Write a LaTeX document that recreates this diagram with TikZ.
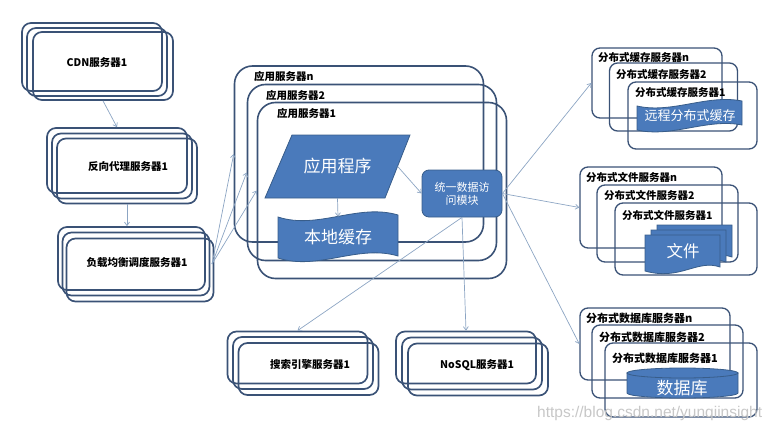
\documentclass[tikz,border=0pt]{standalone}
\usepackage{fontspec}
\setmainfont{Noto Sans CJK SC}
\newfontfamily\wmfont{Liberation Sans}
\usetikzlibrary{arrows.meta}
\definecolor{boxline}{RGB}{58,82,118}
\definecolor{blufill}{RGB}{74,122,187}
\definecolor{bluedge}{RGB}{56,93,138}
\definecolor{arr}{RGB}{140,165,195}
\begin{document}
\begin{tikzpicture}[x=1pt,y=-1pt,
  lbox/.style={draw=boxline,line width=1.7pt,rounded corners=9pt,inner sep=0pt},
  abox/.style={draw=boxline,line width=1.6pt,rounded corners=18pt,inner sep=0pt,minimum width=249pt,minimum height=176pt},
  rbox/.style={draw=boxline,line width=1.3pt,rounded corners=8pt,inner sep=0pt},
  ltxt/.style={font=\fontsize{10.5}{12}\selectfont\bfseries,text=black,inner sep=0pt},
  rtxt/.style={font=\fontsize{10.5}{12}\selectfont\bfseries,text=black,inner sep=0pt,anchor=west},
  bshape/.style={fill=blufill,draw=bluedge,line width=0.8pt},
  wtxt/.style={text=white,inner sep=0pt},
  conn/.style={draw=arr,line width=0.7pt,-{Straight Barb[length=3.5pt,width=5pt]}},
  docp/.pic={\path[bshape] (0,0) -- (75,0) -- (75,32) .. controls (52,24) and (35,46) .. (0,36) -- cycle;}
]
\useasboundingbox (0,0) rectangle (777,431);

% ---- left column ----
\node[lbox,minimum width=140pt,minimum height=68pt] (cdn1) at (92,57) {};
\node[lbox,minimum width=140pt,minimum height=68pt] (cdn2) at (97,62) {};
\node[lbox,minimum width=140pt,minimum height=68pt] (cdn3) at (103,66) {};
\node[ltxt] (cdnt) at (97,63) {CDN服务器1};

\node[lbox,minimum width=140pt,minimum height=65pt] (proxy1) at (117,160.5) {};
\node[lbox,minimum width=140pt,minimum height=65pt] (proxy2) at (122,166) {};
\node[lbox,minimum width=140pt,minimum height=65pt] (proxy3) at (127,171) {};
\node[ltxt] (proxyt) at (128,167) {反向代理服务器1};

\node[lbox,minimum width=147pt,minimum height=63pt] (lb1) at (131.5,258.5) {};
\node[lbox,minimum width=147pt,minimum height=63pt] (lb2) at (136,264) {};
\node[lbox,minimum width=147pt,minimum height=63pt] (lb3) at (140,270) {};
\node[ltxt] (lbt) at (137,263) {负载均衡调度服务器1};

% ---- bottom middle ----
\node[lbox,minimum width=140pt,minimum height=52pt] (search1) at (297.5,357.5) {};
\node[lbox,minimum width=140pt,minimum height=52pt] (search2) at (303,363) {};
\node[lbox,minimum width=140pt,minimum height=52pt] (search3) at (308.5,369) {};
\node[ltxt] (searcht) at (310,365) {搜索引擎服务器1};

\node[lbox,minimum width=140pt,minimum height=52pt] (nosql1) at (466,357.5) {};
\node[lbox,minimum width=140pt,minimum height=52pt] (nosql2) at (472,363.5) {};
\node[lbox,minimum width=140pt,minimum height=52pt] (nosql3) at (478,369.5) {};
\node[ltxt] (nosqlt) at (477,365) {NoSQL服务器1};

% ---- application servers ----
\node[abox] (appn) at (359,154) {};
\node[abox] (app2) at (372,172.5) {};
\node[abox] (app1) at (382,190.5) {};
\node[rtxt] (appnt) at (254,76) {应用服务器n};
\node[rtxt] (app2t) at (266,95) {应用服务器2};
\node[rtxt] (app1t) at (277,113) {应用服务器1};

\path[bshape] (292,135) -- (410,135) -- (385,198) -- (265,198) -- cycle;
\node[wtxt,minimum width=120pt,minimum height=63pt,font=\fontsize{17}{20}\selectfont] (prog) at (337.5,166.5) {应用程序};

\path[bshape] (278,217) .. controls (318,230) and (358,203) .. (398,215) -- (398,256) .. controls (358,244) and (318,271) .. (278,258) -- cycle;
\node[wtxt,minimum width=120pt,minimum height=40pt,font=\fontsize{17}{20}\selectfont] (lc) at (338,237) {本地缓存};

\node[bshape,rounded corners=7pt,minimum width=80pt,minimum height=47pt,inner sep=0pt,text=white,align=center,font=\fontsize{11}{13}\selectfont] (uda) at (462,193.5) {统一数据访\\问模块};

% ---- distributed cache ----
\node[rbox,minimum width=130pt,minimum height=70pt] (cachen) at (657,83) {};
\node[rbox,minimum width=128pt,minimum height=68pt] (cache2) at (673.5,97) {};
\node[rbox,minimum width=129pt,minimum height=67pt] (cache1) at (692.5,115.5) {};
\node[rtxt] (cachent) at (598,57) {分布式缓存服务器n};
\node[rtxt] (cache2t) at (616,74) {分布式缓存服务器2};
\node[rtxt] (cache1t) at (635,92) {分布式缓存服务器1};
\path[bshape] (637,106) .. controls (672,114) and (707,94) .. (742,101) -- (742,125) .. controls (707,118) and (672,138) .. (637,130) -- cycle;
\node[wtxt,font=\fontsize{13}{15}\selectfont] (rc) at (690,116) {远程分布式缓存};

% ---- distributed file ----
\node[rbox,minimum width=142pt,minimum height=81pt] (filen) at (651,207.5) {};
\node[rbox,minimum width=141pt,minimum height=77pt] (file2) at (667.5,223.5) {};
\node[rbox,minimum width=142pt,minimum height=72pt] (file1) at (686,239) {};
\node[rtxt] (filent) at (586,177) {分布式文件服务器n};
\node[rtxt] (file2t) at (604,195) {分布式文件服务器2};
\node[rtxt] (file1t) at (622,215) {分布式文件服务器1};
\pic at (657,225) {docp};
\pic at (651,230) {docp};
\pic at (645,235) {docp};
\node[wtxt,font=\fontsize{16.5}{19}\selectfont] (files) at (683,251) {文件};

% ---- distributed database ----
\node[rbox,minimum width=150pt,minimum height=72pt] (dbn) at (655,344) {};
\node[rbox,minimum width=151pt,minimum height=73pt] (db2) at (667.5,361.5) {};
\node[rbox,minimum width=152pt,minimum height=74pt] (db1) at (681,380) {};
\node[rtxt,font=\fontsize{11}{13}\selectfont\bfseries] (dbnt) at (586,318) {分布式数据库服务器n};
\node[rtxt,font=\fontsize{11}{13}\selectfont\bfseries] (db2t) at (599,337) {分布式数据库服务器2};
\node[rtxt,font=\fontsize{11}{13}\selectfont\bfseries] (db1t) at (612,358) {分布式数据库服务器1};
\path[bshape] (627,373) -- (627,393) arc[start angle=180,end angle=360,x radius=55.5,y radius=-5] -- (738,373) -- cycle;
\path[bshape] (682.5,373) ellipse[x radius=55.5,y radius=5];
\node[wtxt,font=\fontsize{17}{20}\selectfont] (dbt) at (682,388) {数据库};

% ---- connectors ----
\coordinate (lbo) at (212,264);
\draw[conn] (cdn3.south) -- (proxy1.north);
\draw[conn] (proxy3.south) -- (proxy3.south |- lb1.north);
\draw[conn] (lbo) -- (appn.west);
\draw[conn] (lbo) -- (app2.west);
\draw[conn] (lbo) -- (app1.west);
\draw[conn] (prog.east) -- (uda.west);
\draw[conn] (prog.south) -- (lc.north);
\draw[conn] (uda.east) -- (cachen.west);
\draw[conn] (uda.east) -- (filen.west);
\draw[conn] (uda.east) -- (dbn.west);
\draw[conn] (uda.south) -- (nosql1.north);
\draw[conn] (uda.south) -- (search1.north);

% ---- watermark ----
\node[anchor=west,inner sep=0pt,text=black!22,font=\wmfont\fontsize{15.5}{18}\selectfont] (wm) at (537,413) {https://blog.csdn.net/yunqiinsight};
\end{tikzpicture}
\end{document}
